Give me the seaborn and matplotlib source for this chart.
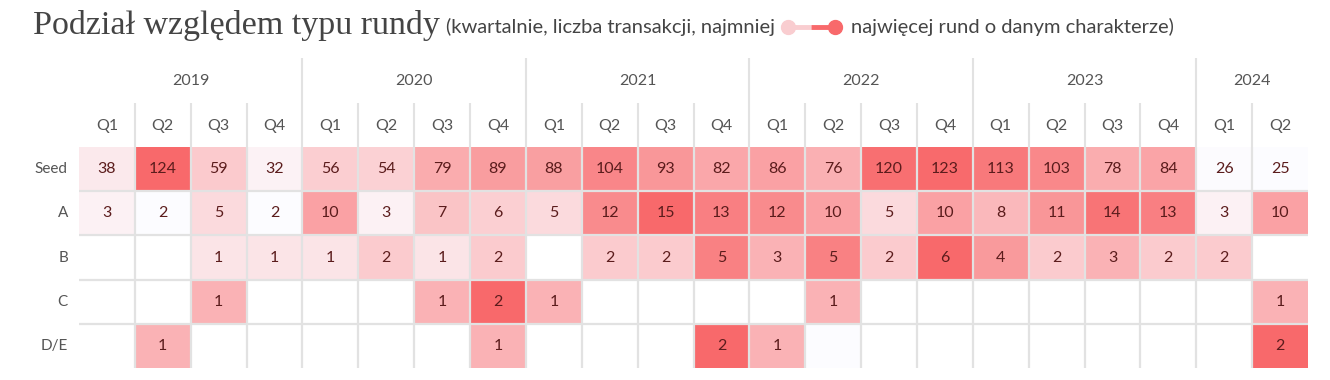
import numpy as np
import pandas as pd
import seaborn as sns
import matplotlib.pyplot as plt
from matplotlib.colors import LinearSegmentedColormap

# dane
years = ['2019', '2020', '2021', '2022', '2023', '2024']
quarters_per_year = [4, 4, 4, 4, 4, 2]
rounds = ['Seed', 'A', 'B', 'C', 'D/E']

seed = [38, 124, 59, 32, 56, 54, 79, 89, 88, 104, 93, 82, 86, 76, 120, 123, 113, 103, 78, 84, 26, 25]
a = [3, 2, 5, 2, 10, 3, 7, 6, 5, 12, 15, 13, 12, 10, 5, 10, 8, 11, 14, 13, 3, 10]
b = [None, None, 1, 1, 1, 2, 1, 2, None, 2, 2, 5, 3, 5, 2, 6, 4, 2, 3, 2, 2, None]
c = [None, None, 1, None, None, None, 1, 2, 1, None, None, None, None, 1, None, None, None, None, None, None, None, 1]
de = [None, 1, None, None, None, None, None, 1, None, None, None, 2, 1, 0, None, None, None, None, None, None, None, 2]

quarters = []
cols = []
for y, n in zip(years, quarters_per_year):
    for q in range(1, n + 1):
        quarters.append('Q%d' % q)
        cols.append('%s Q%d' % (y, q))

df = pd.DataFrame([seed, a, b, c, de], index=rounds, columns=cols, dtype=float)

# skala kolorow liczona osobno dla kazdego wiersza (puste = 0)
filled = df.fillna(0)
rmin = filled.min(axis=1)
rmax = filled.max(axis=1)
norm = filled.sub(rmin, axis=0).div(rmax - rmin, axis=0)
norm[df.isna()] = -1

annot = df.apply(lambda col: col.map(lambda v: '' if pd.isna(v) or v == 0 else str(int(v))))

cmap = LinearSegmentedColormap.from_list('white_red', ['#FCFCFF', '#F8696B'])
cmap.set_under('white')

W, H = 1330, 380
fig = plt.figure(figsize=(W / 100, H / 100), dpi=100)
ax = fig.add_axes([79 / W, (H - 368) / H, (1308 - 79) / W, (368 - 147) / H])

sns.heatmap(norm, cmap=cmap, vmin=0, vmax=1, annot=annot.values, fmt='',
            linewidths=0, cbar=False,
            xticklabels=False, yticklabels=rounds, ax=ax,
            annot_kws={'color': '#5b1c1c', 'fontsize': 11.5, 'family': 'Lato'})
ax.set_yticklabels(rounds, rotation=0, fontsize=11, family='Lato', color='#555555')
ax.tick_params(axis='y', length=0, pad=8)
ax.tick_params(axis='x', length=0)
ax.set_xlabel('')
ax.set_ylabel('')

# siatka tylko wewnatrz tabeli
grid_c = '#e2e2e2'
nrows, ncols = df.shape
ax.hlines(range(1, nrows), 0, ncols, color=grid_c, lw=1.6)
ax.vlines(range(1, ncols), 0, nrows, color=grid_c, lw=1.6)

# naglowki: kwartaly i lata
for j, q in enumerate(quarters):
    ax.text(j + 0.5, -0.48, q, ha='center', va='center', fontsize=11.5,
            family='Lato', color='#555555')
start = 0
year_starts = []
for y, n in zip(years, quarters_per_year):
    ax.text(start + n / 2, -1.5, y, ha='center', va='center', fontsize=11.5,
            family='Lato', color='#555555')
    year_starts.append(start)
    start += n
for j in range(1, ncols):
    top = -2.02 if j in year_starts else -1.0
    ax.vlines(j, top, 0, color=grid_c, lw=1.5, clip_on=False)

# tytul i legenda
oax = fig.add_axes([0, 0, 1, 1])
oax.set_xlim(0, W)
oax.set_ylim(H, 0)
oax.axis('off')

t = oax.text(33, 34, 'Podział względem typu rundy', family='Liberation Serif',
             fontsize=24.5, color='#444444', va='baseline')
fig.canvas.draw()
r = fig.canvas.get_renderer()
x1 = t.get_window_extent(r).x1
s1 = oax.text(x1 + 6, 33, '(kwartalnie, liczba transakcji, najmniej', family='Lato',
              fontsize=14.5, color='#444444', va='baseline')
x2 = s1.get_window_extent(r).x1
cx1 = x2 + 13
cx2 = cx1 + 47
cxm = (cx1 + cx2) / 2
oax.plot([cx1, cxm], [27, 27], color='#f9cdd0', lw=3.5, solid_capstyle='butt')
oax.plot([cxm, cx2], [27, 27], color='#f8696b', lw=3.5, solid_capstyle='butt')
oax.plot([cx1], [27], 'o', color='#f9cdd0', markersize=10)
oax.plot([cx2], [27], 'o', color='#f8696b', markersize=10)
oax.text(cx2 + 16, 33, 'najwięcej rund o danym charakterze)', family='Lato',
         fontsize=14.5, color='#444444', va='baseline')

fig.savefig('out.png', dpi=100)
